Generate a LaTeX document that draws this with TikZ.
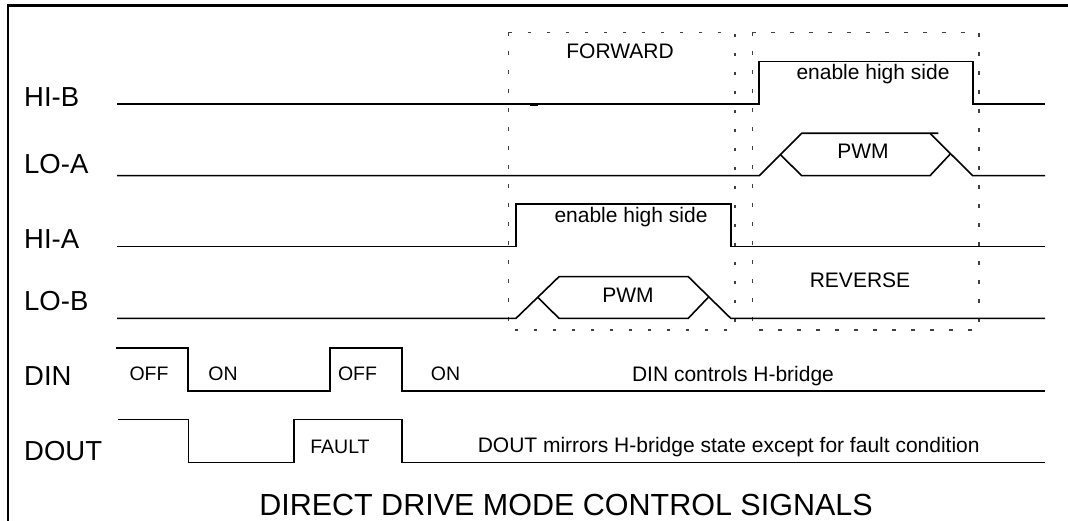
\documentclass[tikz,border=0pt]{standalone}
\usepackage{fontspec}
\setmainfont{Liberation Sans}
\begin{document}
\begin{tikzpicture}[x=1pt,y=-1pt,
  sig/.style={line width=1.6pt,line join=miter},
  frame/.style={line width=2.8pt},
  modebox/.style={line width=1.1pt,black!75,dash pattern=on 3.5pt off 15.5pt},
  lbl/.style={anchor=base west,inner sep=0pt,font=\fontsize{27.5}{30}\selectfont},
  txt/.style={anchor=base,inner sep=0pt,font=\fontsize{21}{24}\selectfont},
  stxt/.style={anchor=base,inner sep=0pt,font=\fontsize{19.5}{22}\selectfont},
  ttl/.style={anchor=base,inner sep=0pt,font=\fontsize{30.5}{34}\selectfont}]
\useasboundingbox (0,0) rectangle (1068,521);
% frame
\draw[frame] (8,523) -- (8,5.3) -- (1070,5.3);
% mode boxes
\draw[modebox] (508.3,32.3) rectangle (735,330);
\draw[modebox] (752.7,32.3) rectangle (979,330);
% labels
\node[lbl] (lhib) at (24,106.7) {HI-B};
\node[lbl] (lloa) at (24,173.3) {LO-A};
\node[lbl] (lhia) at (24,248.3) {HI-A};
\node[lbl] (llob) at (24,310) {LO-B};
\node[lbl] (ldin) at (24,385) {DIN};
\node[lbl] (ldout) at (24,460.7) {DOUT};
% HI-B
\draw[sig] (117,104.3) -- (759,104.3) -- (759,61.7) -- (972.7,61.7) -- (972.7,104.3) -- (1045,104.3);
\draw[line width=2pt] (530,105.5) -- (538,105.5);
% LO-A
\draw[sig] (117,175.7) -- (759.3,175.7) -- (801.7,133.3) -- (938.3,133.3);
\draw[sig] (780,154.3) -- (801.7,175.7) -- (930,175.7) -- (950,154.3);
\draw[sig] (930,133.3) -- (972.7,175.7) -- (1045,175.7);
% HI-A
\draw[sig] (117,246.7) -- (516,246.7) -- (516,204.3) -- (730.7,204.3) -- (730.7,246.7) -- (1045,246.7);
% LO-B
\draw[sig] (117,318.3) -- (516,318.3) -- (559,276.7) -- (688.3,276.7) -- (730.7,318.3) -- (1045,318.3);
\draw[sig] (537.7,297.3) -- (559,318.3) -- (688.3,318.3) -- (708.3,297.3);
% DIN
\draw[sig] (116,347.7) -- (187.7,347.7) -- (187.7,391) -- (330,391) -- (330,347.7) -- (401.7,347.7) -- (401.7,391) -- (1045,391);
% DOUT
\draw[sig] (118,419.3) -- (188.3,419.3) -- (188.3,462.5) -- (294,462.5) -- (294,419.3) -- (401.7,419.3) -- (401.7,462.5) -- (1045,462.5);
% texts
\node[txt] (tfwd) at (620,58.3) {FORWARD};
\node[txt] (tehb) at (873,80) {enable high side};
\node[txt] (tpwma) at (863,159) {PWM};
\node[txt] (teha) at (631,222.7) {enable high side};
\node[txt] (tpwmb) at (628,302.3) {PWM};
\node[txt] (trev) at (860,287.3) {REVERSE};
\node[stxt] (toff1) at (149,380.5) {OFF};
\node[stxt] (ton1) at (223,380.5) {ON};
\node[stxt] (toff2) at (357.5,380.5) {OFF};
\node[stxt] (ton2) at (445.5,380.5) {ON};
\node[txt] (tdin) at (733,381) {DIN controls H-bridge};
\node[stxt] (tfault) at (340,453.3) {FAULT};
\node[txt] (tdout) at (728.7,452) {DOUT mirrors H-bridge state except for fault condition};
\node[ttl] (title) at (566,515) {DIRECT DRIVE MODE CONTROL SIGNALS};
\end{tikzpicture}
\end{document}
